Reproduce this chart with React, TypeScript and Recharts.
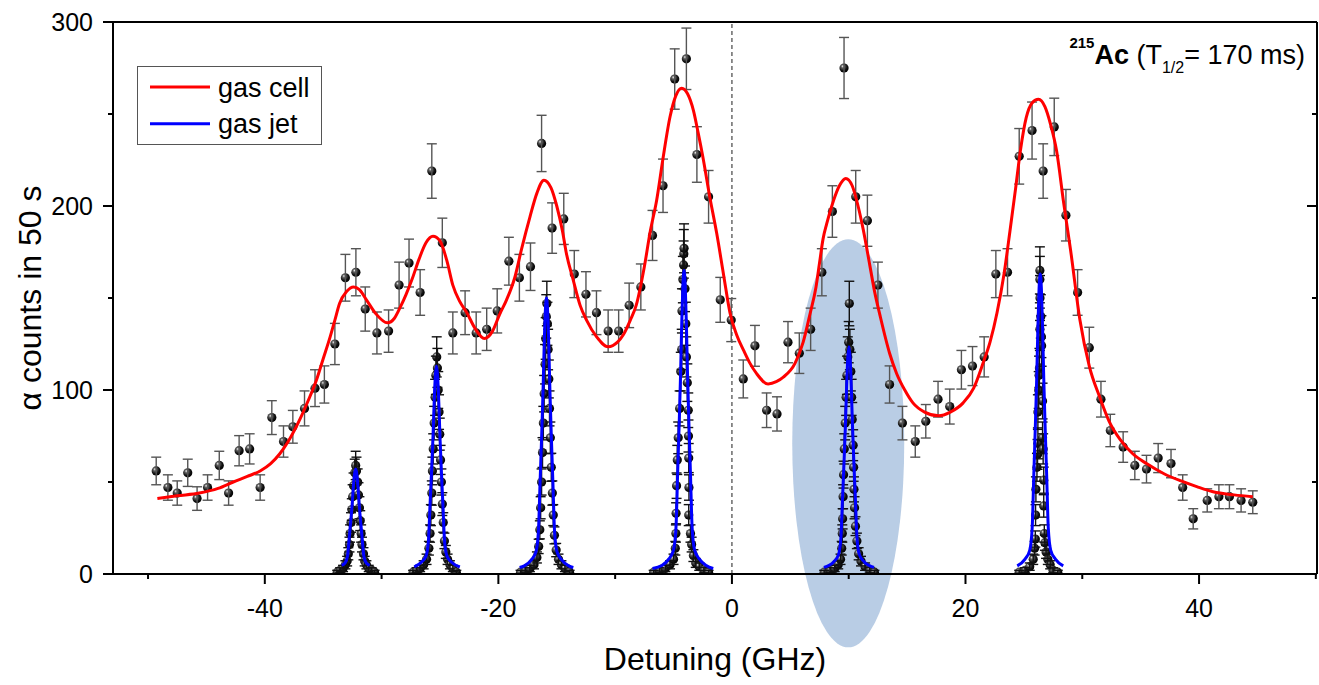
import { ComposedChart, Line, Scatter, ErrorBar, XAxis, YAxis, ReferenceLine, ReferenceDot, Legend } from 'recharts';

type Pt = [number, number, number];
type XY = [number, number];

const FONT = "'Liberation Sans', Arial, Helvetica, sans-serif";

// gas cell scan: [detuning GHz, counts, error]
const cellPts: Pt[] = [
  [-49.3, 56, 7.5], [-48.3, 47, 6.9], [-47.5, 44, 6.6], [-46.6, 55, 7.4], [-45.8, 41, 6.4], [-44.9, 47, 6.9],
  [-43.9, 59, 7.7], [-43.1, 44, 6.6], [-42.2, 67, 8.2], [-41.3, 68, 8.2], [-40.4, 47, 6.9], [-39.4, 85, 9.2],
  [-38.4, 72, 8.5], [-37.6, 80, 8.9], [-36.6, 90, 9.5], [-35.7, 101, 10], [-34.9, 103, 10.1], [-34.0, 125, 11.2],
  [-33.1, 161, 12.7], [-32.2, 164, 12.8], [-31.4, 144, 12], [-30.4, 131, 11.4], [-29.4, 132, 11.5], [-28.5, 157, 12.5],
  [-27.65, 169, 13], [-26.7, 153, 12.4], [-25.7, 219, 14.8], [-24.8, 180, 13.4], [-23.9, 131, 11.4], [-22.85, 142, 11.9],
  [-21.9, 131, 11.4], [-21.0, 133, 11.5], [-20.1, 143, 12], [-19.1, 170, 13], [-18.2, 161, 12.7], [-17.25, 167, 12.9],
  [-16.3, 234, 15.3], [-15.4, 188, 13.7], [-14.4, 193, 13.9], [-13.5, 163, 12.8], [-12.5, 152, 12.3], [-11.6, 142, 11.9],
  [-10.6, 132, 11.5], [-9.7, 132, 11.5], [-8.8, 146, 12.1], [-7.8, 156, 12.5], [-6.8, 184, 13.6], [-5.9, 211, 14.5],
  [-4.9, 269, 16.4], [-3.9, 280, 16.7], [-3.0, 228, 15.1], [-2.0, 205, 14.3], [-1.0, 149, 12.2], [-0.06, 138, 11.7],
  [0.97, 106, 10.3], [1.97, 124, 11.1], [2.97, 89, 9.4], [3.86, 87, 9.3], [4.8, 126, 11.2], [5.77, 120, 11],
  [6.74, 133, 11.5], [7.7, 164, 12.8], [8.6, 197, 14], [9.6, 275, 16.6], [10.6, 205, 14.3], [11.6, 192, 13.9],
  [12.5, 157, 12.5], [13.5, 103, 10.1], [14.6, 82, 9.1], [15.7, 72, 8.5], [16.6, 83, 9.1], [17.65, 95, 9.7],
  [18.65, 91, 9.5], [19.65, 111, 10.5], [20.6, 113, 10.6], [21.6, 118, 10.9], [22.6, 163, 12.8], [23.6, 164, 12.8],
  [24.6, 227, 15.1], [25.7, 241, 15.5], [26.65, 219, 14.8], [27.6, 243, 15.6], [28.6, 195, 14], [29.6, 153, 12.4],
  [30.6, 123, 11.1], [31.6, 95, 9.7], [32.4, 78, 8.8], [33.5, 69, 8.3], [34.5, 59, 7.7], [35.5, 57, 7.5],
  [36.5, 63, 7.9], [37.6, 60, 7.7], [38.6, 47, 6.9], [39.5, 30, 5.5], [40.7, 40, 6.3], [41.7, 42, 6.5],
  [42.6, 42, 6.5], [43.6, 40, 6.3], [44.6, 39, 6.2],
];

// gas jet scans, one per hyperfine line
const jetA: Pt[] = [
  [-33.8, 1, 1], [-33.55, 2, 1.4], [-33.3, 3, 1.7], [-33.1, 5, 2.2], [-32.95, 7, 2.6], [-32.85, 11, 3.3],
  [-32.75, 16, 4], [-32.7, 22, 4.7], [-32.62, 28, 5.3], [-32.55, 35, 5.9], [-32.48, 42, 6.5], [-32.4, 48, 6.9],
  [-32.3, 55, 7.4], [-32.22, 59, 7.7], [-32.15, 56, 7.5], [-32.05, 50, 7.1], [-31.98, 43, 6.6], [-31.9, 36, 6],
  [-31.83, 29, 5.4], [-31.75, 22, 4.7], [-31.68, 16, 4], [-31.55, 11, 3.3], [-31.45, 7, 2.6], [-31.3, 5, 2.2],
  [-31.1, 3, 1.7], [-30.85, 2, 1.4], [-30.6, 1, 1],
];
const jetB: Pt[] = [
  [-27.3, 1, 1], [-27.0, 2, 1.4], [-26.7, 3, 1.7], [-26.4, 5, 2.2], [-26.15, 8, 2.8], [-25.95, 14, 3.7],
  [-25.85, 22, 4.7], [-25.78, 32, 5.7], [-25.7, 44, 6.6], [-25.65, 56, 7.5], [-25.58, 68, 8.2], [-25.5, 82, 9.1],
  [-25.42, 96, 9.8], [-25.35, 108, 10.4], [-25.28, 118, 10.9], [-25.22, 112, 10.6], [-25.15, 100, 10], [-25.08, 88, 9.4],
  [-25.02, 76, 8.7], [-24.95, 62, 7.9], [-24.88, 50, 7.1], [-24.8, 38, 6.2], [-24.72, 28, 5.3], [-24.62, 18, 4.2],
  [-24.5, 12, 3.5], [-24.35, 8, 2.8], [-24.15, 5, 2.2], [-23.9, 3, 1.7], [-23.6, 1, 1],
];
const jetC: Pt[] = [
  [-18.1, 1, 1], [-17.7, 2, 1.4], [-17.3, 3, 1.7], [-16.95, 5, 2.2], [-16.7, 9, 3], [-16.55, 15, 3.9],
  [-16.45, 24, 4.9], [-16.38, 36, 6], [-16.3, 50, 7.1], [-16.22, 66, 8.1], [-16.15, 82, 9.1], [-16.08, 98, 9.9],
  [-16.0, 114, 10.7], [-15.95, 128, 11.3], [-15.9, 140, 11.8], [-15.85, 147, 12.1], [-15.8, 136, 11.7], [-15.74, 122, 11],
  [-15.68, 106, 10.3], [-15.62, 90, 9.5], [-15.55, 74, 8.6], [-15.47, 58, 7.6], [-15.38, 44, 6.6], [-15.3, 32, 5.7],
  [-15.2, 21, 4.6], [-15.05, 13, 3.6], [-14.85, 8, 2.8], [-14.6, 5, 2.2], [-14.3, 3, 1.7], [-13.9, 1, 1],
];
const jetD: Pt[] = [
  [-6.7, 1, 1], [-6.2, 2, 1.4], [-5.7, 3, 1.7], [-5.3, 5, 2.2], [-5.0, 8, 2.8], [-4.85, 14, 3.7],
  [-4.8, 22, 4.7], [-4.78, 33, 5.7], [-4.74, 48, 6.9], [-4.68, 62, 7.9], [-4.6, 74, 8.6], [-4.48, 90, 9.5],
  [-4.38, 110, 10.5], [-4.3, 122, 11], [-4.28, 143, 12], [-4.2, 160, 12.6], [-4.14, 168, 13], [-4.12, 174, 13.2],
  [-4.1, 177, 13.3], [-4.02, 155, 12.4], [-3.95, 136, 11.7], [-3.9, 118, 10.9], [-3.82, 104, 10.2], [-3.74, 89, 9.4],
  [-3.72, 75, 8.7], [-3.7, 63, 7.9], [-3.68, 47, 6.9], [-3.7, 32, 5.7], [-3.55, 22, 4.7], [-3.45, 16, 4],
  [-3.3, 10, 3.2], [-3.1, 6, 2.4], [-2.8, 4, 2], [-2.4, 2, 1.4], [-2.0, 1, 1],
];
const jetE: Pt[] = [
  [7.9, 1, 1], [8.4, 2, 1.4], [8.8, 3, 1.7], [9.1, 5, 2.2], [9.3, 8, 2.8], [9.4, 14, 3.7],
  [9.45, 22, 4.7], [9.48, 30, 5.5], [9.52, 42, 6.5], [9.56, 54, 7.3], [9.62, 68, 8.2], [9.7, 82, 9.1],
  [9.78, 96, 9.8], [9.85, 108, 10.4], [9.92, 118, 10.9], [10.0, 126, 11.2], [10.05, 147, 12.1], [10.1, 122, 11],
  [10.18, 110, 10.5], [10.25, 96, 9.8], [10.3, 84, 9.2], [10.38, 70, 8.4], [10.42, 58, 7.6], [10.45, 46, 6.8],
  [10.5, 36, 6], [10.58, 26, 5.1], [10.7, 18, 4.2], [10.85, 11, 3.3], [11.05, 7, 2.6], [11.4, 4, 2],
  [11.8, 2, 1.4], [12.2, 1, 1],
];
const jetF: Pt[] = [
  [24.6, 1, 1], [25.1, 2, 1.4], [25.5, 4, 2], [25.8, 8, 2.8], [25.92, 14, 3.7], [25.98, 19, 4.4],
  [26.0, 32, 5.7], [26.03, 46, 6.8], [26.12, 58, 7.6], [26.17, 65, 8.1], [26.2, 71, 8.4], [26.2, 88, 9.4],
  [26.27, 100, 10], [26.3, 108, 10.4], [26.33, 112, 10.6], [26.37, 133, 11.5], [26.38, 150, 12.2], [26.37, 160, 12.6],
  [26.37, 165, 12.8], [26.45, 140, 11.8], [26.5, 129, 11.4], [26.52, 124, 11.1], [26.6, 94, 9.7], [26.6, 74, 8.6],
  [26.65, 68, 8.2], [26.7, 51, 7.1], [26.7, 37, 6.1], [26.75, 22, 4.7], [26.8, 17, 4.1], [26.9, 12, 3.5],
  [27.05, 8, 2.8], [27.25, 5, 2.2], [27.5, 2, 1.4], [27.9, 1, 1],
];

// fitted curves
const cellFit: XY[] = [
  [-49.2, 41], [-47.5, 42.5], [-45.6, 44], [-44, 46.5], [-42.7, 50], [-41.5, 53], [-40.4, 56], [-39.5, 60],
  [-38.7, 65.5], [-38, 72], [-37, 84], [-36.3, 94], [-35.6, 105], [-35, 117], [-34.4, 129], [-34, 138],
  [-33.6, 147], [-33, 153.5], [-32.4, 156], [-31.9, 154.5], [-31.3, 149], [-30.5, 141.5], [-29.5, 136.5], [-28.9, 139],
  [-28.4, 145], [-27.9, 152], [-27.4, 160], [-26.8, 171], [-26.2, 180], [-25.6, 183.5], [-25, 181], [-24.4, 170],
  [-23.9, 157], [-23.3, 148], [-22.7, 142], [-22, 133.5], [-21.2, 128], [-20.5, 132], [-19.9, 141], [-19.3, 149],
  [-18.6, 161], [-18, 177], [-17.3, 194], [-16.7, 207], [-16.1, 214], [-15.5, 210], [-15, 200], [-14.5, 186],
  [-14.2, 175], [-13.6, 160], [-13, 146], [-12.45, 138], [-11.6, 129], [-10.6, 123.5], [-9.8, 126], [-9.3, 130],
  [-8.7, 138], [-8.2, 146], [-7.5, 167], [-7, 186], [-6.45, 203], [-5.9, 226], [-5.3, 248.5], [-4.8, 260],
  [-4.3, 264], [-3.8, 261], [-3.3, 252], [-2.9, 240], [-2.5, 227], [-1.9, 205], [-1.3, 185], [-0.7, 162],
  [-0.17, 142], [0.4, 130], [1, 121.5], [1.5, 115], [2.1, 109], [3.1, 103.3], [3.8, 104.5], [4.4, 107],
  [5.4, 114.5], [6.1, 126], [6.7, 141.7], [7.2, 156], [7.5, 169], [7.8, 182], [8.1, 190], [8.7, 203],
  [9.2, 211], [9.75, 215], [10.3, 211], [10.8, 200], [11.25, 187], [11.8, 168], [12.2, 154], [12.7, 140],
  [13.5, 120], [14.1, 109], [14.8, 100], [15.5, 93], [16.5, 88], [17.7, 86], [18.7, 88], [19.8, 93],
  [20.7, 101], [21.5, 114.5], [22.1, 126], [22.7, 142], [23.3, 163], [23.8, 186], [24.3, 210], [24.7, 230],
  [25.2, 248], [25.7, 256], [26.25, 258], [26.8, 254], [27.3, 244], [27.8, 230], [28.4, 202], [29, 176],
  [29.8, 138], [30.6, 113], [31.5, 96], [32.3, 83], [33.25, 73], [34.3, 65.5], [35.5, 60], [37, 54.5],
  [38.4, 50.7], [39.8, 47.5], [41.2, 44.7], [43, 43], [44.6, 42],
];
const jetFitA: XY[] = [
  [-33.42, 4.7], [-33.12, 6.0], [-32.91, 10.1], [-32.77, 19.9], [-32.65, 28.1], [-32.52, 37.9], [-32.42, 47.2],
  [-32.32, 54.3], [-32.22, 57], [-32.12, 54.3], [-32.02, 47.2], [-31.92, 37.9], [-31.79, 28.1], [-31.67, 19.9],
  [-31.53, 10.1], [-31.32, 6.0], [-31.02, 4.7],
];
const jetFitB: XY[] = [
  [-27.2, 3.9], [-26.6, 6.4], [-26.2, 9.7], [-25.99, 18.0], [-25.85, 37.9], [-25.73, 54.4], [-25.6, 74.3],
  [-25.5, 93.1], [-25.4, 107.5], [-25.3, 113], [-25.2, 107.5], [-25.1, 93.1], [-25.0, 74.3], [-24.87, 54.4],
  [-24.75, 37.9], [-24.61, 18.0], [-24.4, 9.7], [-24.0, 6.4], [-23.3, 3.8],
];
const jetFitC: XY[] = [
  [-18.18, 3.5], [-17.78, 4.4], [-17.18, 7.7], [-16.78, 12.1], [-16.57, 23.2], [-16.43, 49.7], [-16.31, 71.8],
  [-16.18, 98.4], [-16.08, 123.5], [-15.98, 142.6], [-15.88, 150], [-15.78, 142.6], [-15.68, 123.5], [-15.58, 98.4],
  [-15.45, 71.8], [-15.33, 49.7], [-15.19, 23.2], [-14.98, 12.1], [-14.58, 7.7], [-13.98, 4.4], [-13.58, 3.5],
];
const jetFitD: XY[] = [
  [-6.8, 3.0], [-6.0, 4.6], [-5.4, 8.2], [-5.0, 13.1], [-4.79, 25.3], [-4.65, 54.5], [-4.53, 78.9],
  [-4.4, 108.1], [-4.3, 135.8], [-4.2, 156.9], [-4.1, 165], [-4.0, 156.9], [-3.9, 135.8], [-3.8, 108.1],
  [-3.67, 78.9], [-3.55, 54.5], [-3.41, 25.3], [-3.2, 13.1], [-2.8, 8.2], [-2.2, 4.6], [-1.6, 3.0],
];
const jetFitE: XY[] = [
  [7.87, 3.6], [8.72, 6.7], [9.12, 10.4], [9.33, 19.4], [9.47, 41.2], [9.59, 59.4], [9.72, 81.2],
  [9.82, 101.7], [9.92, 117.5], [10.02, 123.5], [10.12, 117.5], [10.22, 101.7], [10.32, 81.2], [10.45, 59.4],
  [10.57, 41.2], [10.71, 19.4], [10.92, 10.4], [11.32, 6.7], [12.17, 3.6],
];
const jetFitF: XY[] = [
  [24.43, 4.4], [25.1, 8.1], [25.5, 12.9], [25.71, 25], [25.85, 53.9], [25.97, 77.9], [26.1, 106.8],
  [26.2, 134.1], [26.3, 155], [26.4, 163], [26.5, 155], [26.6, 134.1], [26.7, 106.8], [26.83, 77.9],
  [26.95, 53.9], [27.09, 25], [27.3, 12.9], [27.7, 8.1], [28.37, 4.4],
];

const xTicks = [-50, -40, -30, -20, -10, 0, 10, 20, 30, 40, 50];
const yTicks = [0, 50, 100, 150, 200, 250, 300];
const highlight = { x: 9.96, y: 71 }; // centre of the shaded region
const legendItems = [
  { name: 'gas cell', color: '#ff0000' },
  { name: 'gas jet', color: '#0000ff' },
];

const toPts = (rows: Pt[]) => rows.map(([x, y, e]) => ({ x, y, e }));
const toXY = (rows: XY[]) => rows.map(([x, y]) => ({ x, y }));

const cellData = toPts(cellPts);
const jetData = toPts([...jetA, ...jetB, ...jetC, ...jetD, ...jetE, ...jetF]);
const jetFits = [jetFitA, jetFitB, jetFitC, jetFitD, jetFitE, jetFitF].map(toXY);

const Ball = (p: any) => <circle cx={p.cx} cy={p.cy} r={4.6} fill="url(#ball)" />;

const BottomTick = ({ x, y, payload }: any) => {
  const major = payload.value % 20 === 0;
  return (
    <g>
      <line x1={x} y1={y} x2={x} y2={y + (major ? 10 : 5)} stroke="#000" strokeWidth={2} />
      {major && (
        <text x={x} y={y + 43} textAnchor="middle" fontSize={25} fontFamily={FONT} fill="#000">
          {payload.value}
        </text>
      )}
    </g>
  );
};

// top and right frame: ticks point into the plot
const TopTick = ({ x, y, payload }: any) => (
  <line x1={x} y1={y} x2={x} y2={y + (payload.value % 20 === 0 ? 10 : 5)} stroke="#000" strokeWidth={2} />
);

const LeftTick = ({ x, y, payload }: any) => {
  const major = payload.value % 100 === 0;
  return (
    <g>
      <line x1={x - (major ? 10 : 5)} y1={y} x2={x} y2={y} stroke="#000" strokeWidth={2} />
      {major && (
        <text x={x - 20} y={y + 9} textAnchor="end" fontSize={25} fontFamily={FONT} fill="#000">
          {payload.value}
        </text>
      )}
    </g>
  );
};

const RightTick = ({ x, y, payload }: any) => (
  <line x1={x - (payload.value % 100 === 0 ? 10 : 5)} y1={y} x2={x} y2={y} stroke="#000" strokeWidth={2} />
);

const LegendBox = () => (
  <div style={{ width: 185, height: 79, border: '1.5px solid #555', boxSizing: 'border-box', background: '#fff' }}>
    <svg width={182} height={76}>
      {legendItems.map((item, i) => (
        <g key={item.name}>
          <line x1={12} x2={72} y1={20 + i * 36.7} y2={20 + i * 36.7} stroke={item.color} strokeWidth={3} />
          <text x={80} y={30 + i * 36.3} fontSize={27} fontFamily={FONT} fill="#000">
            {item.name}
          </text>
        </g>
      ))}
    </svg>
  </div>
);

export default function App() {
  return (
    <div style={{ width: 1319, height: 684, background: '#fff' }}>
      <style>{'body { margin: 0; }'}</style>
      <ComposedChart width={1319} height={684} margin={{ top: 21, right: 1, bottom: 14, left: 8 }}>
        <defs>
          <radialGradient id="ball" cx="0.4" cy="0.38" r="0.62" fx="0.34" fy="0.3">
            <stop offset="0" stopColor="#f0f0f0" />
            <stop offset="0.28" stopColor="#606060" />
            <stop offset="0.7" stopColor="#111" />
            <stop offset="1" stopColor="#000" />
          </radialGradient>
        </defs>
        <XAxis
          type="number"
          dataKey="x"
          domain={[-53, 50.1]}
          allowDataOverflow
          ticks={xTicks}
          interval={0}
          height={96}
          tickSize={0}
          tickMargin={0}
          tickLine={false}
          tick={<BottomTick />}
          axisLine={{ stroke: '#000', strokeWidth: 2 }}
          label={{
            value: 'Detuning (GHz)',
            position: 'insideBottom',
            offset: 0,
            fill: '#000',
            style: { fontSize: 32, fontFamily: FONT, fill: '#000' },
          }}
        />
        <XAxis
          xAxisId="top"
          orientation="top"
          type="number"
          domain={[-53, 50.1]}
          allowDataOverflow
          ticks={xTicks}
          interval={0}
          height={1}
          tickSize={0}
          tickMargin={0}
          tickLine={false}
          tick={<TopTick />}
          axisLine={{ stroke: '#000', strokeWidth: 2 }}
        />
        <YAxis
          type="number"
          domain={[0, 300]}
          allowDataOverflow
          ticks={yTicks}
          interval={0}
          width={105}
          tickSize={0}
          tickMargin={0}
          tickLine={false}
          tick={<LeftTick />}
          axisLine={{ stroke: '#000', strokeWidth: 2 }}
          label={{
            value: 'α counts in 50 s',
            angle: -90,
            position: 'insideLeft',
            offset: 22,
            fill: '#000',
            style: { textAnchor: 'middle', fontSize: 32, fontFamily: FONT, fill: '#000' },
          }}
        />
        <YAxis
          yAxisId="right"
          orientation="right"
          type="number"
          domain={[0, 300]}
          allowDataOverflow
          ticks={yTicks}
          interval={0}
          width={1}
          tickSize={0}
          tickMargin={0}
          tickLine={false}
          tick={<RightTick />}
          axisLine={{ stroke: '#000', strokeWidth: 2 }}
        />
        <ReferenceDot
          x={highlight.x}
          y={highlight.y}
          ifOverflow="visible"
          zIndex={50}
          shape={(p: any) => <ellipse cx={p.cx} cy={p.cy} rx={56} ry={204} fill="#b9cde5" />}
        />
        <ReferenceLine x={0} stroke="#444" strokeWidth={1.2} strokeDasharray="4 3" zIndex={60} />
        <Scatter data={cellData} dataKey="y" shape={Ball} isAnimationActive={false} zIndex={300}>
          <ErrorBar dataKey="e" direction="y" width={5} stroke="#555" strokeWidth={1.4} isAnimationActive={false} />
        </Scatter>
        <Scatter data={jetData} dataKey="y" shape={Ball} isAnimationActive={false} zIndex={300}>
          <ErrorBar dataKey="e" direction="y" width={5} stroke="#111" strokeWidth={1.4} isAnimationActive={false} />
        </Scatter>
        <Line
          data={toXY(cellFit)}
          dataKey="y"
          type="monotone"
          stroke="#ff0000"
          strokeWidth={3}
          dot={false}
          activeDot={false}
          isAnimationActive={false}
          zIndex={450}
        />
        {jetFits.map((d, i) => (
          <Line
            key={i}
            data={d}
            dataKey="y"
            type="monotone"
            stroke="#0000ff"
            strokeWidth={3}
            dot={false}
            activeDot={false}
            isAnimationActive={false}
            zIndex={450}
          />
        ))}
        <Legend
          layout="vertical"
          align="center"
          verticalAlign="middle"
          content={<LegendBox />}
          wrapperStyle={{ left: 136.7, top: 65.7, width: 185 }}
        />
        <text x={1305} y={64} textAnchor="end" fontFamily={FONT} fontSize={27} fill="#000">
          <tspan fontSize={15} fontWeight="bold" dy={-16}>215</tspan>
          <tspan fontWeight="bold" dy={16}>Ac</tspan>
          <tspan> (T</tspan>
          <tspan fontSize={16} dy={9}>1/2</tspan>
          <tspan dy={-9}>= 170 ms)</tspan>
        </text>
      </ComposedChart>
    </div>
  );
}
